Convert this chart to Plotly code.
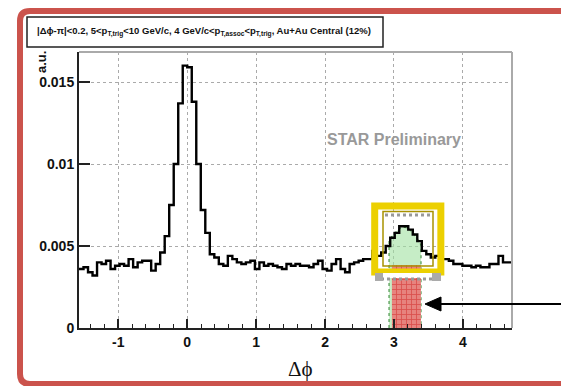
import numpy as np
import plotly.graph_objects as go

# ---------------- data ----------------
n_bins = 96
phi_lo, phi_hi = -np.pi / 2, 3 * np.pi / 2
counts = [
    0.0036, 0.0037, 0.0034, 0.0032, 0.0040, 0.0039, 0.0041, 0.0036, 0.0038,
    0.0039, 0.0038, 0.0042, 0.0037, 0.0040, 0.0041, 0.0041, 0.0035, 0.0039,
    0.0046, 0.0056, 0.0075, 0.0100, 0.0137, 0.0160, 0.0159, 0.0138, 0.0100,
    0.0072, 0.0058, 0.0045, 0.0043, 0.0039,
    0.0038, 0.0044, 0.0042, 0.0040, 0.0039, 0.0040, 0.0041, 0.0036, 0.0040,
    0.0038, 0.0039, 0.0038, 0.0037, 0.0036, 0.0039, 0.0038, 0.0039, 0.0038,
    0.0038, 0.0037, 0.0039, 0.0041, 0.0036, 0.0035, 0.0039, 0.0042, 0.0036,
    0.0034, 0.0039, 0.0040, 0.0041, 0.0042, 0.0042, 0.0047,
    0.0044, 0.0046, 0.0050, 0.0055, 0.0058, 0.0062, 0.0062, 0.0060, 0.0057,
    0.0053, 0.0047, 0.0045, 0.0043, 0.0044,
    0.0042, 0.0042, 0.0041, 0.0039, 0.0039, 0.0038, 0.0038, 0.0037, 0.0038,
    0.0037, 0.0037, 0.0039, 0.0039, 0.0044, 0.0040, 0.0040,
]
# away-side jet region (green) : smooth shape
jet_x = [2.928, 2.986, 3.044, 3.102, 3.160, 3.218, 3.276, 3.334, 3.392]
jet_y = [0.00537, 0.00567, 0.00593, 0.00612, 0.00614, 0.00604, 0.00581, 0.00547, 0.00506]
# pedestal (red hatched)
ped_lo, ped_hi, ped_level = 2.97, 3.39, 0.00384
# highlight box
box_x = [2.72, 3.68]
box_y = [0.00341, 0.00744]

x_ticks = [-1, 0, 1, 2, 3, 4]
x_tick_text = ["-1", "0", "1", "2", "3", "4"]
y_ticks = [0, 0.005, 0.01, 0.015]
y_tick_text = ["0", "0.005", "0.01", "0.015"]
title_text = ("|Δϕ-π|&lt;0.2, 5&lt;p<sub>T,trig</sub>&lt;10 GeV/c, 4 GeV/c&lt;p<sub>T,assoc</sub>"
              "&lt;p<sub>T,trig</sub>, Au+Au Central (12%)")

# ---------------- geometry helpers ----------------
W, H = 561, 386
L, R, T, B = 79, 512, 52, 328
y_lo, y_hi = 0.0, 0.01683


def px(xp):
    return (xp - L) / (R - L)


def py(yp):
    return (B - yp) / (B - T)


edges = np.linspace(phi_lo, phi_hi, n_bins + 1)

fig = go.Figure()

# green jet fill
fig.add_trace(go.Scatter(
    x=[jet_x[0]] + jet_x + [jet_x[-1]], y=[0] + jet_y + [0],
    mode="lines", fill="toself", fillcolor="rgba(160,225,160,0.6)",
    line=dict(color="rgba(60,140,60,0.9)", width=1.2, dash="dot"),
    showlegend=False, hoverinfo="skip"))

# red hatched pedestal
fig.add_trace(go.Scatter(
    x=[ped_lo, ped_lo, ped_hi, ped_hi], y=[0, ped_level, ped_level, 0],
    mode="lines", fill="toself", fillcolor="#e7837e",
    fillpattern=dict(shape="+", fgcolor="#cc1818", bgcolor="#e7837e", size=5, solidity=0.3),
    line=dict(width=0, color="rgba(0,0,0,0)"),
    showlegend=False, hoverinfo="skip"))

# histogram outline
fig.add_trace(go.Scatter(
    x=list(edges), y=counts + [counts[-1]], mode="lines",
    line=dict(color="black", width=2.4, shape="hv"),
    showlegend=False, hoverinfo="skip"))

axis_font = dict(family="Liberation Sans, Arial", size=14, color="#111", weight="bold")

fig.update_xaxes(range=[phi_lo, phi_hi], tickvals=x_ticks, ticktext=x_tick_text,
                 ticks="inside", ticklen=9, tickwidth=1.5, tickcolor="#222",
                 minor=dict(dtick=0.2, tick0=0, ticks="inside", ticklen=4, tickwidth=1, tickcolor="#222"),
                 showline=True, linecolor="#222", linewidth=2,
                 showgrid=True, gridcolor="#aaa", griddash="dot", gridwidth=1,
                 tickfont=axis_font, zeroline=False)
fig.update_yaxes(range=[y_lo, y_hi], tickvals=y_ticks, ticktext=y_tick_text, ticks="inside",
                 ticklen=11, tickwidth=1.5, tickcolor="#222",
                 showline=True, linecolor="#222", linewidth=2,
                 showgrid=True, gridcolor="#aaa", griddash="dot", gridwidth=1,
                 tickfont=axis_font, zeroline=False)

shapes = []
# grey top/right frame
shapes.append(dict(type="line", xref="paper", yref="paper", x0=0, x1=1, y0=1, y1=1,
                   line=dict(color="#aaa", width=2)))
shapes.append(dict(type="line", xref="paper", yref="paper", x0=1, x1=1, y0=0, y1=1,
                   line=dict(color="#aaa", width=2)))
# yellow highlight box
shapes.append(dict(type="rect", xref="x", yref="y", x0=box_x[0], x1=box_x[1],
                   y0=box_y[0], y1=box_y[1], line=dict(color="#ecd000", width=7), layer="above"))
shapes.append(dict(type="rect", xref="paper", yref="paper", x0=px(383), x1=px(433),
                   y0=py(266), y1=py(211.5), line=dict(color="#a89200", width=1.5), layer="above"))
# grey dotted bars inside top and below the box
shapes.append(dict(type="line", xref="paper", yref="paper", x0=px(385), x1=px(432),
                   y0=py(215), y1=py(215), line=dict(color="#999", width=3, dash="dot"), layer="above"))
shapes.append(dict(type="rect", xref="paper", yref="paper", x0=px(383), x1=px(432),
                   y0=py(278), y1=py(273), fillcolor="white", line=dict(width=0), layer="above"))
shapes.append(dict(type="line", xref="paper", yref="paper", x0=px(375), x1=px(441),
                   y0=py(279), y1=py(279), line=dict(color="#999", width=3, dash="dot"), layer="above"))
shapes.append(dict(type="rect", xref="paper", yref="paper", x0=px(375), x1=px(383),
                   y0=py(281), y1=py(273), fillcolor="#aaa", line=dict(width=0), layer="above"))
shapes.append(dict(type="rect", xref="paper", yref="paper", x0=px(432), x1=px(441),
                   y0=py(281), y1=py(273), fillcolor="#aaa", line=dict(width=0), layer="above"))
# arrow
shapes.append(dict(type="line", xref="paper", yref="paper", x0=px(436), x1=px(580),
                   y0=py(304), y1=py(304), line=dict(color="black", width=2.2), layer="above"))
shapes.append(dict(type="path", xref="paper", yref="paper",
                   path=f"M {px(425)},{py(304)} L {px(441)},{py(297)} L {px(441)},{py(311)} Z",
                   fillcolor="black", line=dict(color="black", width=1), layer="above"))
# title box
shapes.append(dict(type="rect", xref="paper", yref="paper", x0=px(27), x1=px(383),
                   y0=py(47), y1=py(17), line=dict(color="#222", width=1.5), fillcolor="white"))
# red rounded border (right edge lies beyond the picture)
rx, ry = 10 / (R - L), 10 / (B - T)
x0b, x1b, y0b, y1b = px(20), px(600), py(384), py(11)
path = (f"M {x0b+rx},{y1b} L {x1b-rx},{y1b} Q {x1b},{y1b} {x1b},{y1b-ry} "
        f"L {x1b},{y0b+ry} Q {x1b},{y0b} {x1b-rx},{y0b} L {x0b+rx},{y0b} "
        f"Q {x0b},{y0b} {x0b},{y0b+ry} L {x0b},{y1b-ry} Q {x0b},{y1b} {x0b+rx},{y1b} Z")
shapes.append(dict(type="path", xref="paper", yref="paper", path=path,
                   line=dict(color="#cb534c", width=6)))

annotations = [
    dict(xref="paper", yref="paper", x=px(204), y=py(32), text=title_text, showarrow=False,
         font=dict(family="Liberation Sans, Arial", size=9.5, color="#111", weight="bold"),
         xanchor="center", yanchor="middle"),
    dict(xref="x", yref="y", x=3.0, y=0.01152, text="STAR Preliminary", showarrow=False,
         font=dict(family="Liberation Sans, Arial", size=16, color="#999", weight="bold"),
         xanchor="center", yanchor="middle"),
    dict(xref="paper", yref="paper", x=px(300), y=py(369), text="Δϕ", showarrow=False,
         font=dict(family="Liberation Serif, DejaVu Serif", size=21, color="#111"),
         xanchor="center", yanchor="middle"),
    dict(xref="paper", yref="paper", x=px(42), y=py(49), text="a.u.", showarrow=False,
         textangle=-90, font=dict(family="Liberation Sans, Arial", size=13, color="#111", weight="bold"),
         xanchor="center", yanchor="top"),
]

fig.update_layout(width=W, height=H, margin=dict(l=L, r=W - R, t=T, b=H - B),
                  paper_bgcolor="white", plot_bgcolor="white", showlegend=False,
                  shapes=shapes, annotations=annotations)

fig.write_html("out.html")
